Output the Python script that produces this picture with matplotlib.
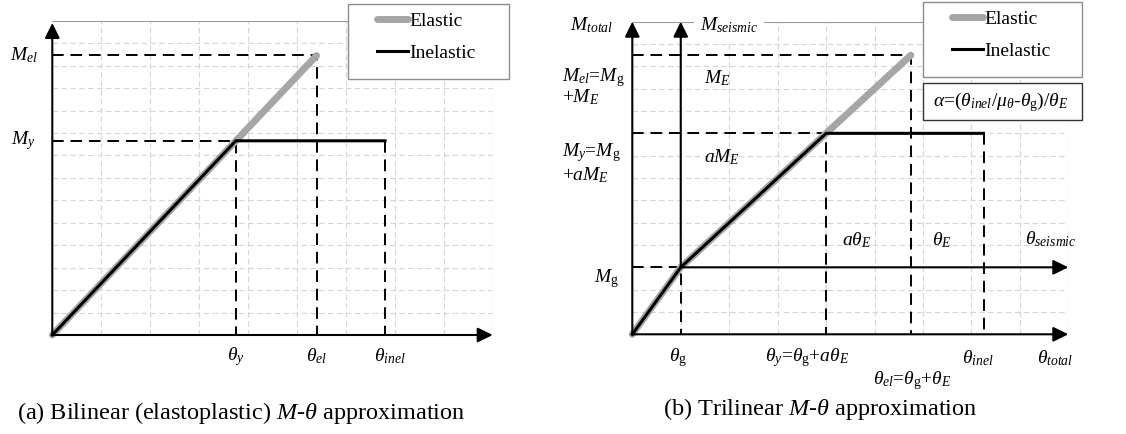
import matplotlib
matplotlib.use('Agg')
import matplotlib.pyplot as plt
from matplotlib.lines import Line2D
from matplotlib.patches import Rectangle

plt.rcParams['font.family'] = 'Liberation Serif'
plt.rcParams['mathtext.fontset'] = 'custom'
plt.rcParams['mathtext.rm'] = 'Liberation Serif'
plt.rcParams['mathtext.it'] = 'Liberation Serif:italic'
plt.rcParams['mathtext.bf'] = 'Liberation Serif:bold'

# bilinear (elastoplastic) model, grid units
bi_theta_y, bi_theta_el, bi_theta_inel = 3.75, 5.4, 6.8
bi_M_y, bi_M_el = 8.65, 12.45
bi_elastic_x = [0, bi_theta_el]
bi_elastic_y = [0, bi_M_el]
bi_inelastic_x = [0, bi_theta_y, bi_theta_inel]
bi_inelastic_y = [0, bi_M_y, bi_M_y]

# trilinear model, grid units
tri_theta_g, tri_theta_y, tri_theta_el, tri_theta_inel = 1.0, 4.0, 5.75, 7.25
tri_M_g, tri_M_y, tri_M_el = 3.0, 9.0, 12.5
tri_elastic_x = [0, tri_theta_g, tri_theta_el]
tri_elastic_y = [0, tri_M_g, tri_M_el]
tri_inelastic_x = [0, tri_theta_g, tri_theta_y, tri_theta_inel]
tri_inelastic_y = [0, tri_M_g, tri_M_y, tri_M_y]

NX, NY = 9, 14
GREY = '#a6a6a6'
FS = 14

fig = plt.figure(figsize=(11.26, 4.34), dpi=100)
W, H = 1126.0, 434.0


def px_axes(x0, y0, x1, y1):
    # axes box given in pixel coords measured from the top-left corner
    return fig.add_axes([x0 / W, 1 - y1 / H, (x1 - x0) / W, (y1 - y0) / H])


def base(ax):
    ax.set_xlim(0, NX)
    ax.set_ylim(0, NY)
    ax.axis('off')
    for i in range(1, NX):
        ax.plot([i, i], [0, NY], color='#d6d6d6', lw=0.8, dashes=(5, 3), zorder=0)
    for j in range(1, NY):
        ax.plot([0, NX], [j, j], color='#d6d6d6', lw=0.8, dashes=(5, 3), zorder=0)
    ax.plot([0, NX], [NY, NY], color='#9a9a9a', lw=0.8, zorder=1)
    ax.plot([NX, NX], [0, NY], color='#c0c0c0', lw=0.8, zorder=1)


def arrow(ax, x0, y0, x1, y1):
    ax.annotate('', xy=(x1, y1), xytext=(x0, y0), annotation_clip=False,
                arrowprops=dict(arrowstyle='-|>,head_length=0.65,head_width=0.32',
                                mutation_scale=14, lw=1.5, color='k',
                                shrinkA=0, shrinkB=0), zorder=5)


def dash(ax, xs, ys):
    ax.plot(xs, ys, color='k', lw=1.4, dashes=(6, 3.5), zorder=3)


def curves(ax, ex, ey, ix, iy):
    ax.plot(ex, ey, color=GREY, lw=5, solid_capstyle='round',
            solid_joinstyle='round', zorder=4, clip_on=False)
    ax.plot(ix, iy, color='k', lw=2.2, solid_joinstyle='round', zorder=4,
            clip_on=False)


def legend_box(x0, y0, x1, y1, hx, ty):
    fig.patches.append(Rectangle((x0 / W, 1 - y1 / H), (x1 - x0) / W, (y1 - y0) / H,
                                 transform=fig.transFigure, facecolor='white',
                                 edgecolor='#8c8c8c', lw=1.0, zorder=10))
    handles = [Line2D([], [], color=GREY, lw=5, solid_capstyle='round'),
               Line2D([], [], color='k', lw=2.2)]
    leg = fig.legend(handles, ['Elastic', 'Inelastic'], loc='upper left',
                     bbox_to_anchor=(hx / W, 1 - ty / H), frameon=False,
                     borderpad=0, borderaxespad=0, handlelength=1.6,
                     handletextpad=0.1, labelspacing=0.75, fontsize=FS)
    leg.set_zorder(11)


# ---- (a) bilinear ----
ax1 = px_axes(52.3, 20.7, 492.7, 335.0)
base(ax1)
arrow(ax1, 0, 0, NX, 0)
arrow(ax1, 0, 0, 0, NY - 0.1)
dash(ax1, [0, bi_theta_el, bi_theta_el], [bi_M_el, bi_M_el, 0])
dash(ax1, [0, bi_theta_y, bi_theta_y], [bi_M_y, bi_M_y, 0])
dash(ax1, [bi_theta_inel, bi_theta_inel], [bi_M_y, 0])
curves(ax1, bi_elastic_x, bi_elastic_y, bi_inelastic_x, bi_inelastic_y)

ax1.text(-0.57, bi_M_el, r'$M_{el}$', fontsize=FS, ha='center', va='center')
ax1.text(-0.6, bi_M_y, r'$M_y$', fontsize=FS, ha='center', va='center')
for xv, lab, dx in [(bi_theta_y, r'$\theta_y$', 0.0),
                    (bi_theta_el, r'$\theta_{el}$', 0.0),
                    (bi_theta_inel, r'$\theta_{inel}$', 0.1)]:
    ax1.text(xv + dx, -0.95, lab, fontsize=FS, ha='center', va='center')

legend_box(347.7, 4, 509, 79, 376.7, 12)
fig.text(241 / W, 1 - 413 / H, r'(a) Bilinear (elastoplastic) $M$-$\theta$ approximation',
         fontsize=17.5, ha='center', va='center')

# ---- (b) trilinear ----
ax2 = px_axes(632.3, 21.7, 1068.3, 334.3)
base(ax2)
arrow(ax2, 0, 0, NX, 0)
arrow(ax2, 0, 0, 0, NY)
arrow(ax2, tri_theta_g, tri_M_g, NX, tri_M_g)
arrow(ax2, tri_theta_g, tri_M_g, tri_theta_g, NY)
dash(ax2, [0, tri_theta_el, tri_theta_el], [tri_M_el, tri_M_el, 0])
dash(ax2, [0, tri_theta_y, tri_theta_y], [tri_M_y, tri_M_y, 0])
dash(ax2, [0, tri_theta_g, tri_theta_g], [tri_M_g, tri_M_g, 0])
dash(ax2, [tri_theta_inel, tri_theta_inel], [tri_M_y, 0])
curves(ax2, tri_elastic_x, tri_elastic_y, tri_inelastic_x, tri_inelastic_y)

ax2.text(-0.4, 13.85, r'$M_{total}$', fontsize=FS, ha='right', va='center')
ax2.text(2.0, 13.85, r'$M_{seismic}$', fontsize=FS, ha='center', va='center', zorder=6,
         bbox=dict(facecolor='white', edgecolor='none', pad=4))
ax2.text(-1.45, 11.52, r'$M_{el}$=$M_{\mathrm{g}}$', fontsize=FS, ha='left', va='center')
ax2.text(-1.45, 10.63, r'+$M_E$', fontsize=FS, ha='left', va='center')
ax2.text(-1.45, 8.12, r'$M_y$=$M_{\mathrm{g}}$', fontsize=FS, ha='left', va='center')
ax2.text(-1.45, 7.13, r'+$aM_E$', fontsize=FS, ha='left', va='center')
ax2.text(-0.54, 2.5, r'$M_{\mathrm{g}}$', fontsize=FS, ha='center', va='center')
ax2.text(1.47, 11.48, r'$M_E$', fontsize=FS, ha='left', va='center')
ax2.text(1.47, 7.94, r'$aM_E$', fontsize=FS, ha='left', va='center')
ax2.text(4.32, 4.22, r'$a\theta_E$', fontsize=FS, ha='left', va='center')
ax2.text(6.18, 4.22, r'$\theta_E$', fontsize=FS, ha='left', va='center')
ax2.text(8.11, 4.27, r'$\theta_{seismic}$', fontsize=FS, ha='left', va='center')

ax2.text(0.94, -1.06, r'$\theta_{\mathrm{g}}$', fontsize=FS, ha='center', va='center')
ax2.text(3.6, -1.06, r'$\theta_y$=$\theta_{\mathrm{g}}$+$a\theta_E$', fontsize=FS,
         ha='center', va='center')
ax2.text(5.77, -2.05, r'$\theta_{el}$=$\theta_{\mathrm{g}}$+$\theta_E$', fontsize=FS,
         ha='center', va='center')
ax2.text(7.14, -1.06, r'$\theta_{inel}$', fontsize=FS, ha='center', va='center')
ax2.text(8.73, -1.06, r'$\theta_{total}$', fontsize=FS, ha='center', va='center')

legend_box(923.3, 1.7, 1081.7, 77.3, 951.7, 10)
fig.patches.append(Rectangle((923.3 / W, 1 - 120 / H), (1081.7 - 923.3) / W, (120 - 82.7) / H,
                             transform=fig.transFigure, facecolor='white',
                             edgecolor='#333333', lw=1.0, zorder=10))
fig.text(933 / W, 1 - 102 / H,
         r'$\alpha$=($\theta_{inel}$/$\mu_\theta$-$\theta_{\mathrm{g}}$)/$\theta_E$',
         fontsize=FS, ha='left', va='center', zorder=12)

fig.text(820 / W, 1 - 409 / H, r'(b) Trilinear $M$-$\theta$ approximation',
         fontsize=17.5, ha='center', va='center')

fig.savefig('out.png', dpi=100)
